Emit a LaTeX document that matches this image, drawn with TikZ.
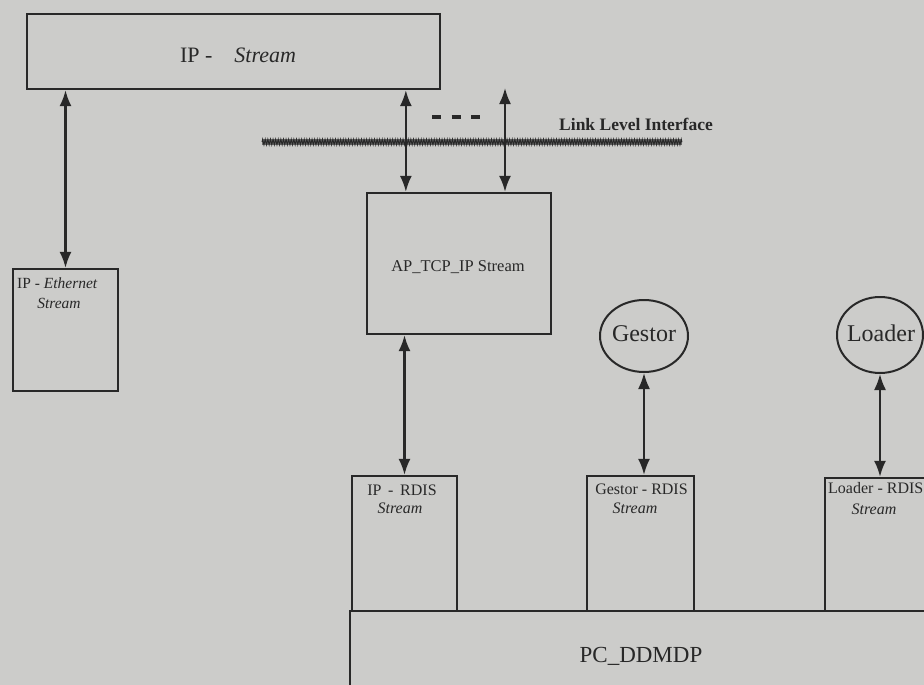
\documentclass[tikz,border=0pt]{standalone}
\usepackage{fontspec}
\setmainfont{Liberation Serif}
\usetikzlibrary{arrows.meta,decorations.pathmorphing,shapes.geometric}
\definecolor{bg}{RGB}{204,204,202}
\definecolor{ink}{RGB}{40,40,40}
\begin{document}
\begin{tikzpicture}[x=1pt,y=-1pt,
  box/.style={draw=ink, line width=2.3pt, inner sep=0pt},
  bubble/.style={draw=ink, line width=2pt, ellipse, inner sep=0pt},
  lbl/.style={text=ink, inner sep=0pt},
  dbl/.style={draw=ink, line width=2.1pt, {Latex[length=16pt,width=12pt]}-{Latex[length=16pt,width=12pt]}}]
\useasboundingbox (0,0) rectangle (924,685);
\clip (0,0) rectangle (924,685);
\fill[bg] (0,0) rectangle (924,685);

% boxes
\node[box, minimum width=413pt, minimum height=75pt] (ips) at (233.5,51.5) {};
\node[lbl, font=\fontsize{22}{25}\selectfont] (ipst) at (238,55) {IP -\quad\textit{Stream}};
\node[box, minimum width=105pt, minimum height=122pt] (ipeth) at (65.5,330) {};
\node[lbl, anchor=west, font=\fontsize{15.5}{18}\selectfont] (ipetht) at (17,283) {IP - \textit{Ethernet}};
\node[lbl, font=\fontsize{15.5}{18}\selectfont] (ipeths) at (59,303) {\textit{Stream}};

\node[box, minimum width=184pt, minimum height=141pt] (ap) at (459,263.5) {};
\node[lbl, font=\fontsize{16.5}{19}\selectfont] (apt) at (458,267) {AP\_TCP\_IP Stream};

\node[box, minimum width=105pt, minimum height=135pt] (iprdis) at (404.5,543.5) {};
\node[lbl, font=\fontsize{16}{19}\selectfont] (iprdist) at (402,490) {IP \,-\, RDIS};
\node[lbl, font=\fontsize{16}{19}\selectfont] (iprdiss) at (400,508) {\textit{Stream}};

\node[box, minimum width=107pt, minimum height=135pt] (grdis) at (640.5,543.5) {};
\node[lbl, font=\fontsize{16}{19}\selectfont] (grdist) at (641.5,489) {Gestor - RDIS};
\node[lbl, font=\fontsize{16}{19}\selectfont] (grdiss) at (635,508) {\textit{Stream}};

\node[box, minimum width=107pt, minimum height=133pt] (lrdis) at (878.5,544.5) {};
\node[lbl, anchor=west, font=\fontsize{16}{19}\selectfont] (lrdist) at (828,488) {Loader - RDIS};
\node[lbl, font=\fontsize{16}{19}\selectfont] (lrdiss) at (874,509) {\textit{Stream}};

\node[box, minimum width=590pt, minimum height=89pt] (pc) at (645,655.5) {};
\node[lbl, font=\fontsize{23}{26}\selectfont] (pct) at (641,656) {PC\_DDMDP};

\node[bubble, minimum width=88pt, minimum height=72pt] (gestor) at (644,336) {};
\node[lbl, font=\fontsize{24}{27}\selectfont] (gestort) at (644,334) {Gestor};
\node[bubble, minimum width=86pt, minimum height=76pt] (loader) at (880,335) {};
\node[lbl, font=\fontsize{24}{27}\selectfont] (loadert) at (881,333) {Loader};

% link level interface
\coordinate (ll1) at (262,142);
\coordinate (ll2) at (682,142);
\draw[ink!70, line width=6pt] (ll1) -- (ll2);
\draw[ink, line width=0.9pt, decorate, decoration={zigzag, segment length=2.6pt, amplitude=2.8pt}] (ll1) -- (ll2);
\node[lbl, font=\fontsize{17.5}{20}\selectfont\bfseries] (llt) at (636,124) {Link Level Interface};
\node[lbl] (dots) at (456,117) {\color{ink}\rule{9pt}{3.5pt}\hspace{10.5pt}\rule{9pt}{3.5pt}\hspace{10.5pt}\rule{9pt}{3.5pt}};

% connectors
\draw[dbl] (ipeth.north |- ips.south) -- (ipeth.north);
\coordinate (apin1) at ([xshift=40pt]ap.north west);
\draw[dbl] (apin1 |- ips.south) -- (apin1);
\coordinate (free) at (505,88);
\draw[dbl] (free) -- (free |- ap.north);
\draw[dbl] (iprdis.north |- ap.south) -- (iprdis.north);
\draw[dbl] (gestor.south) -- (gestor.south |- grdis.north);
\draw[dbl] (loader.south) -- (loader.south |- lrdis.north);
\end{tikzpicture}
\end{document}
